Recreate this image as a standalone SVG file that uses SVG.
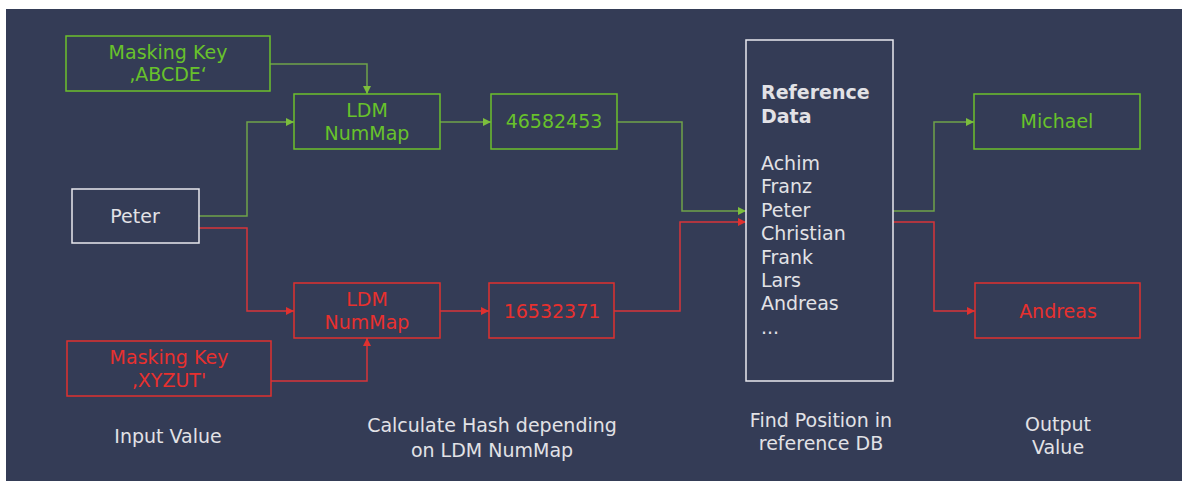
<svg xmlns="http://www.w3.org/2000/svg" width="1182" height="481" viewBox="0 0 1182 481">
  <defs>
    <style>
      text { font-family: "DejaVu Sans", "Liberation Sans", sans-serif; font-size: 19px; }
      .c { text-anchor: middle; }
      .box { fill: none; stroke-width: 1.5; }
      .g-box { stroke: #6cc02c; }
      .r-box { stroke: #e0312f; }
      .w-box { stroke: #e8e8ee; }
      .g-txt { fill: #68c22b; }
      .r-txt { fill: #e8302e; }
      .w-txt { fill: #e2e2e6; }
      .g-line { fill: none; stroke: #6fa34a; stroke-width: 1.5; }
      .r-line { fill: none; stroke: #d8343a; stroke-width: 1.5; }
    </style>
    <marker id="ag" viewBox="0 0 10 10" refX="10" refY="5" markerWidth="8" markerHeight="8" markerUnits="userSpaceOnUse" orient="auto">
      <path d="M0,0 L10,5 L0,10 z" fill="#7cbf3c"/>
    </marker>
    <marker id="ar" viewBox="0 0 10 10" refX="10" refY="5" markerWidth="8" markerHeight="8" markerUnits="userSpaceOnUse" orient="auto">
      <path d="M0,0 L10,5 L0,10 z" fill="#e0312f"/>
    </marker>
  </defs>

  <rect x="0" y="0" width="1182" height="481" fill="#ffffff"/>
  <rect x="6" y="9" width="1176" height="472" fill="#343c56"/>

  <!-- connectors -->
  <g id="connectors">
    <path class="g-line" d="M270,64 H367 V94" marker-end="url(#ag)"/>
    <path class="g-line" d="M199,216 H247 V122 H294" marker-end="url(#ag)"/>
    <path class="r-line" d="M199,228 H247 V311 H294" marker-end="url(#ar)"/>
    <path class="r-line" d="M271,381 H367 V338" marker-end="url(#ar)"/>
    <path class="g-line" d="M440,122 H491" marker-end="url(#ag)"/>
    <path class="r-line" d="M440,311 H489" marker-end="url(#ar)"/>
    <path class="g-line" d="M617,122 H682 V211 H746" marker-end="url(#ag)"/>
    <path class="r-line" d="M614,311 H680 V222 H746" marker-end="url(#ar)"/>
    <path class="g-line" d="M893,211 H934 V122 H974" marker-end="url(#ag)"/>
    <path class="r-line" d="M893,222 H934 V311 H975" marker-end="url(#ar)"/>
  </g>

  <g id="key-abcde">
    <rect class="box g-box" x="66" y="36" width="204" height="55"/>
    <text class="c g-txt" x="168" y="59">Masking Key</text>
    <text class="c g-txt" x="168" y="81">‚ABCDE‘</text>
  </g>

  <g id="ldm-green">
    <rect class="box g-box" x="294" y="94" width="146" height="55"/>
    <text class="c g-txt" x="367" y="117">LDM</text>
    <text class="c g-txt" x="367" y="140">NumMap</text>
  </g>

  <g id="hash-green">
    <rect class="box g-box" x="491" y="94" width="126" height="55"/>
    <text class="c g-txt" x="554" y="128">46582453</text>
  </g>

  <g id="input-peter">
    <rect class="box w-box" x="72" y="189" width="127" height="54"/>
    <text class="c w-txt" x="135" y="223">Peter</text>
  </g>

  <g id="ldm-red">
    <rect class="box r-box" x="294" y="283" width="146" height="55"/>
    <text class="c r-txt" x="367" y="306">LDM</text>
    <text class="c r-txt" x="367" y="329">NumMap</text>
  </g>

  <g id="hash-red">
    <rect class="box r-box" x="489" y="283" width="125" height="55"/>
    <text class="c r-txt" x="552" y="318">16532371</text>
  </g>

  <g id="key-xyzut">
    <rect class="box r-box" x="67" y="341" width="204" height="55"/>
    <text class="c r-txt" x="169" y="364">Masking Key</text>
    <text class="c r-txt" x="169" y="387">‚XYZUT'</text>
  </g>

  <g id="reference-data">
    <rect class="box w-box" x="746" y="40" width="147" height="341"/>
    <text class="w-txt" x="761" y="99" font-weight="bold">Reference</text>
    <text class="w-txt" x="761" y="123" font-weight="bold">Data</text>
    <text class="w-txt" x="761" y="170">Achim</text>
    <text class="w-txt" x="761" y="193">Franz</text>
    <text class="w-txt" x="761" y="217">Peter</text>
    <text class="w-txt" x="761" y="240">Christian</text>
    <text class="w-txt" x="761" y="264">Frank</text>
    <text class="w-txt" x="761" y="287">Lars</text>
    <text class="w-txt" x="761" y="310">Andreas</text>
    <text class="w-txt" x="761" y="334">...</text>
  </g>

  <g id="out-michael">
    <rect class="box g-box" x="974" y="94" width="166" height="55"/>
    <text class="c g-txt" x="1057" y="128">Michael</text>
  </g>

  <g id="out-andreas">
    <rect class="box r-box" x="975" y="283" width="165" height="55"/>
    <text class="c r-txt" x="1058" y="318">Andreas</text>
  </g>

  <g id="captions">
    <text class="c w-txt" x="168" y="443">Input Value</text>
    <text class="c w-txt" x="492" y="432">Calculate Hash depending</text>
    <text class="c w-txt" x="492" y="457">on LDM NumMap</text>
    <text class="c w-txt" x="821" y="427">Find Position in</text>
    <text class="c w-txt" x="821" y="450">reference DB</text>
    <text class="c w-txt" x="1058" y="431">Output</text>
    <text class="c w-txt" x="1058" y="454">Value</text>
  </g>
</svg>
